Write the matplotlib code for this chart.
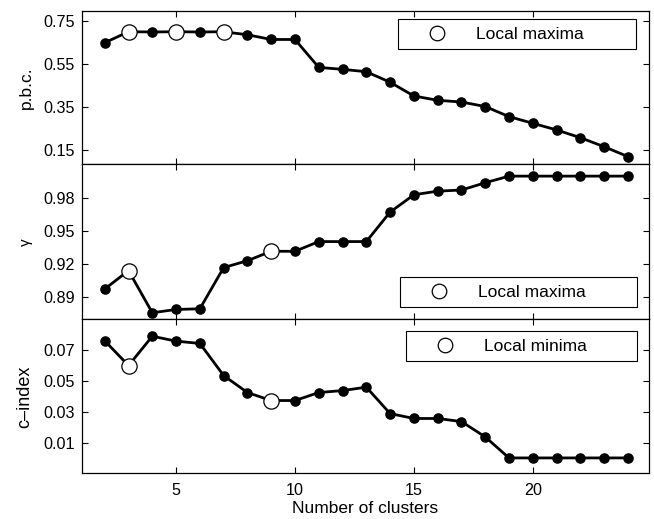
import matplotlib
matplotlib.use("Agg")
import matplotlib.pyplot as plt
from matplotlib.lines import Line2D

plt.rcParams['font.family'] = ['Liberation Sans', 'DejaVu Sans']

# number of clusters
clusters = list(range(2, 25))

# p.b.c. per cluster count
pbc = [0.649, 0.700, 0.699, 0.700, 0.699, 0.700, 0.686, 0.664, 0.664, 0.534,
       0.525, 0.514, 0.465, 0.401, 0.381, 0.373, 0.352, 0.305, 0.274, 0.243,
       0.207, 0.165, 0.119]
pbc_marks = [3, 5, 7]

# gamma
gamma = [0.8973, 0.914, 0.8758, 0.8788, 0.8794, 0.9167, 0.923, 0.9315, 0.9315,
         0.9403, 0.9403, 0.9403, 0.967, 0.9827, 0.986, 0.987, 0.9936, 0.9996,
         0.9996, 0.9996, 0.9996, 0.9996, 0.9996]
gamma_marks = [3, 9]

# c-index
cindex = [0.0763, 0.0602, 0.0793, 0.0761, 0.0746, 0.0537, 0.0426, 0.0374,
          0.0374, 0.0426, 0.0439, 0.0461, 0.0289, 0.0257, 0.0257, 0.0237,
          0.0137, 0.0, 0.0, 0.0, 0.0, 0.0, 0.0]
cindex_marks = [3, 9]

panels = [
    ("p.b.c.", pbc, pbc_marks, "Local maxima", (0.083, 0.798), [0.15, 0.35, 0.55, 0.75]),
    ("\u03b3", gamma, gamma_marks, "Local maxima", (0.8697, 1.0103), [0.89, 0.92, 0.95, 0.98]),
    ("c\u2013index", cindex, cindex_marks, "Local minima", (-0.0100, 0.0902), [0.01, 0.03, 0.05, 0.07]),
]

# axes rectangles [left, bottom, width, height] in figure fraction
rects = [
    [0.1249, 0.6834, 0.8679, 0.2960],
    [0.1249, 0.3844, 0.8679, 0.2990],
    [0.1249, 0.0881, 0.8679, 0.2963],
]
# legend boxes (x0, top, width) in axes fraction
legpos = [(0.5578, 0.944, 0.4183), (0.5608, 0.2719, 0.4170), (0.5714, 0.9233, 0.4065)]

fig = plt.figure(figsize=(6.54, 5.19), dpi=100)

for i, (lab, vals, marks, legtxt, ylim, yticks) in enumerate(panels):
    ax = fig.add_axes(rects[i])
    ax.plot(clusters, vals, '-o', color='black', lw=2.0, ms=6.6,
            mfc='black', mec='black', clip_on=False, zorder=3)
    mx = [c for c in marks]
    my = [vals[clusters.index(c)] for c in marks]
    ax.plot(mx, my, 'o', ms=11, mfc='white', mec='black', mew=0.9,
            clip_on=False, zorder=4)
    ax.set_xlim(1.03, 24.9)
    ax.set_ylim(*ylim)
    ax.set_yticks(yticks)
    ax.set_yticklabels(['%.2f' % t for t in yticks])
    ax.set_xticks([5, 10, 15, 20])
    ax.tick_params(direction='in', length=4, width=0.8, top=True, right=True,
                   labelsize=11.6, pad=5)
    if i < 2:
        ax.tick_params(labelbottom=False)
    else:
        ax.tick_params(axis='x', pad=7)
        ax.set_xlabel("Number of clusters", fontsize=12.5, labelpad=2)
    for s in ax.spines.values():
        s.set_linewidth(0.9)
    fs = {0: 12.5, 1: 11, 2: 13}[i]
    ax.set_ylabel(lab, fontsize=fs, labelpad=7)

    h = Line2D([], [], ls='none', marker='o', ms=10.5, mfc='white', mec='black', mew=0.9)
    x0, top, w = legpos[i]
    leg = ax.legend([h], [legtxt], loc='upper left', bbox_to_anchor=(x0, 0, w, top),
                    mode='expand', borderaxespad=0, fontsize=12.5, numpoints=1,
                    handlelength=3.6, handletextpad=0.45, borderpad=0.42,
                    fancybox=False, framealpha=1, edgecolor='black')
    leg.get_frame().set_linewidth(0.8)

fig.savefig("out.png", dpi=100)
